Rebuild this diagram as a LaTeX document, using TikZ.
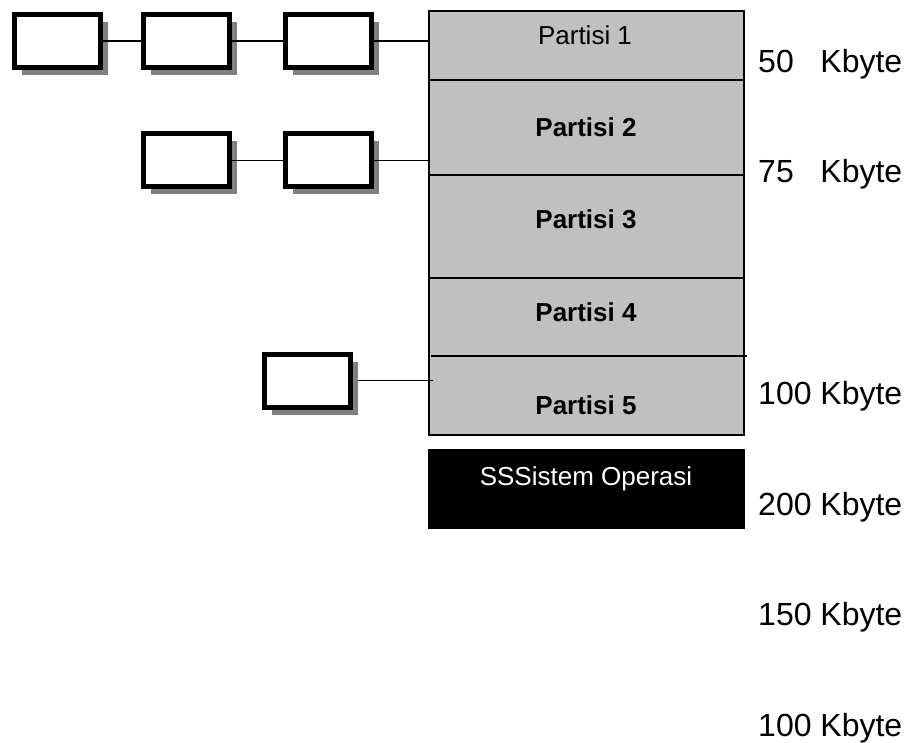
\documentclass[tikz,border=0pt]{standalone}
\usepackage{fontspec}
\setmainfont{Liberation Sans}
\usetikzlibrary{shadows}
\definecolor{shadowgray}{RGB}{128,128,128}
\definecolor{partgray}{RGB}{192,192,192}
\begin{document}
\begin{tikzpicture}[x=1pt,y=-1pt,
  proc/.style={draw=black, line width=5pt, fill=white, inner sep=0pt,
    minimum width=86pt, minimum height=53pt,
    drop shadow={shadow xshift=7.5pt, shadow yshift=-7.5pt, fill=shadowgray, opacity=1}},
  part/.style={draw=black, line width=1.8pt, fill=partgray, inner sep=0pt,
    anchor=north west, minimum width=315pt},
  ptext/.style={anchor=base, inner sep=0pt, font=\fontsize{26}{29}\selectfont},
  size/.style={anchor=base west, inner sep=0pt, font=\fontsize{32}{35}\selectfont},
  link/.style={line width=1.8pt}]
\useasboundingbox (0,0) rectangle (907,743);

% memory column
\node[part, minimum height=69pt]  (p1)  at (428,10)  {};
\node[part, minimum height=95pt]  (p2)  at (428,79)  {};
\node[part, minimum height=103pt] (p3)  at (428,174) {};
\node[part, minimum height=157pt] (p45) at (428,277) {};
\coordinate (d4) at (431,356);
\coordinate (d5) at (747,356);
\draw[line width=1.8pt] (d4) -- (d5);
\node[draw=black, fill=black, inner sep=0pt, anchor=north west,
      minimum width=316pt, minimum height=79pt] (os) at (428,449) {};

\node[ptext] (t1) at (585,45)  {Partisi 1};
\node[ptext] (t2) at (586,137) {\bfseries Partisi 2};
\node[ptext] (t3) at (586,229) {\bfseries Partisi 3};
\node[ptext] (t4) at (586,321) {\bfseries Partisi 4};
\node[ptext] (t5) at (586,414) {\bfseries Partisi 5};
\node[ptext, text=white] (tos) at (586,485) {SSSistem Operasi};

% size labels
\node[size] (s1) at (758,73)  {50~~~Kbyte};
\node[size] (s2) at (758,183) {75~~~Kbyte};
\node[size] (s3) at (758,404) {100 Kbyte};
\node[size] (s4) at (758,515) {200 Kbyte};
\node[size] (s5) at (758,625) {150 Kbyte};
\node[size] (s6) at (758,736) {100 Kbyte};

% process queues
\node[proc] (a1) at (57.5,41)   {};
\node[proc] (a2) at (186,41)    {};
\node[proc] (a3) at (328.5,41)  {};
\node[proc] (b1) at (186,160.5)   {};
\node[proc] (b2) at (328.5,160.5) {};
\node[proc] (c1) at (307.5,380.5) {};

\draw[link] (a1.east) -- (a2.west);
\draw[link] (a2.east) -- (a3.west);
\draw[link] (a3.east) -- (a3.east -| p1.west);
\draw[link] (b1.east) -- (b2.west);
\draw[link] (b2.east) -- (b2.east -| p2.west);
\draw[link] ([xshift=5pt]c1.east) -- ([xshift=5pt]c1.east -| p45.west);
\end{tikzpicture}
\end{document}
